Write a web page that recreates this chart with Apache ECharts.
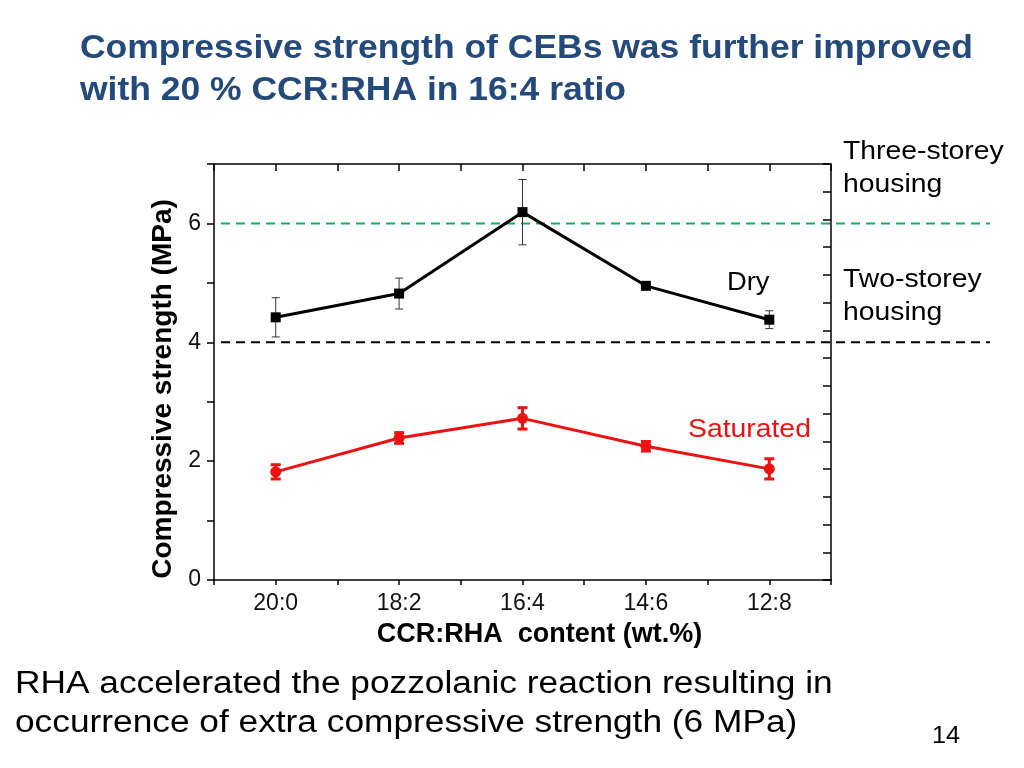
<!DOCTYPE html>
<html>
<head>
<meta charset="utf-8">
<script src="https://cdn.jsdelivr.net/npm/echarts@6/dist/echarts.min.js"></script>
<style>
html,body{margin:0;padding:0;background:#fff;}
#chart{width:1024px;height:768px;}
</style>
</head>
<body>
<div id="chart"></div>
<script>
// ---- data ----
const categories = ['20:0', '18:2', '16:4', '14:6', '12:8'];
const dryMean = [4.42, 4.82, 6.19, 4.95, 4.38];
const dryErr  = [0.33, 0.26, 0.55, 0.05, 0.15];
const satMean = [1.82, 2.39, 2.72, 2.25, 1.87];
const satErr  = [0.12, 0.09, 0.18, 0.08, 0.17];
const refLevels = [6, 4];

const FONT = "'Liberation Sans', Arial, Helvetica, sans-serif";
const refColors = ['#1aae5a', '#000000'];

function errData(mean, err) {
  return mean.map((m, i) => [i, m - err[i], m + err[i]]);
}
function errRender(color, width, cap) {
  return function (params, api) {
    const x = api.value(0);
    const lo = api.coord([x, api.value(1)]);
    const hi = api.coord([x, api.value(2)]);
    const st = { stroke: color, lineWidth: width };
    return {
      type: 'group',
      children: [
        { type: 'line', shape: { x1: lo[0], y1: lo[1], x2: hi[0], y2: hi[1] }, style: st },
        { type: 'line', shape: { x1: lo[0] - cap, y1: lo[1], x2: lo[0] + cap, y2: lo[1] }, style: st },
        { type: 'line', shape: { x1: hi[0] - cap, y1: hi[1], x2: hi[0] + cap, y2: hi[1] }, style: st }
      ]
    };
  };
}

const chart = echarts.init(document.getElementById('chart'), null, { renderer: 'canvas' });

const axisLineStyle = { color: '#000', width: 1.5 };

const option = {
  backgroundColor: '#fff',
  animation: false,
  textStyle: { fontFamily: FONT },
  grid: [
    { left: 214, right: 193, top: 164, bottom: 188 },
    { left: 214, right: 34, top: 164, bottom: 188 }
  ],
  xAxis: [
    {
      type: 'value', gridIndex: 0, position: 'bottom',
      min: -0.5, max: 4.5, interval: 0.5,
      axisLine: { show: true, onZero: false, lineStyle: axisLineStyle },
      axisTick: { show: true, inside: false, length: 5, lineStyle: { color: '#000', width: 1.5 } },
      axisLabel: {
        margin: 12, fontSize: 23, color: '#111', fontFamily: FONT,
        formatter: v => (Number.isInteger(v) && v >= 0 && v < categories.length) ? categories[v] : ''
      },
      splitLine: { show: false },
      name: 'CCR:RHA  content (wt.%)', nameLocation: 'middle', nameGap: 41,
      nameTextStyle: { fontSize: 27, fontWeight: 'bold', color: '#000', fontFamily: FONT, padding: [0, 0, 0, 34] }
    },
    {
      type: 'value', gridIndex: 0, position: 'top',
      min: -0.5, max: 4.5, interval: 0.5,
      axisLine: { show: true, onZero: false, lineStyle: axisLineStyle },
      axisTick: { show: true, inside: true, length: 7, lineStyle: { color: '#000', width: 1.5 } },
      axisLabel: { show: false },
      splitLine: { show: false }
    },
    {
      type: 'value', gridIndex: 1, min: 0, max: 1, show: false
    }
  ],
  yAxis: [
    {
      type: 'value', gridIndex: 0, position: 'left',
      min: 0, max: 7, interval: 1,
      axisLine: { show: true, onZero: false, lineStyle: axisLineStyle },
      axisTick: { show: true, inside: false, length: 7, lineStyle: { color: '#000', width: 1.5 } },
      axisLabel: {
        margin: 13, fontSize: 23, color: '#111', fontFamily: FONT,
        formatter: v => (v % 2 === 0 && v < 7) ? String(v) : ''
      },
      splitLine: { show: false },
      name: 'Compressive strength (MPa)', nameLocation: 'middle', nameGap: 26, nameRotate: 90,
      nameTextStyle: { fontSize: 28, fontWeight: 'bold', color: '#000', fontFamily: FONT, padding: [0, 34, 0, 0] }
    },
    {
      type: 'value', gridIndex: 0, position: 'right',
      min: 0, max: 7.5, interval: 0.5,
      axisLine: { show: true, onZero: false, lineStyle: axisLineStyle },
      axisTick: { show: true, inside: true, length: 8, lineStyle: { color: '#000', width: 1.5 } },
      axisLabel: { show: false },
      splitLine: { show: false }
    },
    {
      type: 'value', gridIndex: 1, min: 0, max: 7, show: false
    }
  ],
  graphic: [
    { type: 'text', x: 80, y: 28, scaleX: 1.075, style: { text: 'Compressive strength of CEBs was further improved\nwith 20 % CCR:RHA in 16:4 ratio', font: 'bold 33px ' + FONT, fill: '#244a7c', lineHeight: 42 } },
    { type: 'text', x: 15, y: 665, scaleX: 1.138, style: { text: 'RHA accelerated the pozzolanic reaction resulting in\noccurrence of extra compressive strength (6 MPa)', font: '31px ' + FONT, fill: '#000', lineHeight: 39 } },
    { type: 'text', x: 932, y: 724, scaleX: 1.05, style: { text: '14', font: '24px ' + FONT, fill: '#000' } },
    { type: 'text', x: 843, y: 135, scaleX: 1.09, style: { text: 'Three-storey\nhousing', font: '26px ' + FONT, fill: '#000', lineHeight: 33 } },
    { type: 'text', x: 843, y: 263, scaleX: 1.09, style: { text: 'Two-storey\nhousing', font: '26px ' + FONT, fill: '#000', lineHeight: 33 } },
    { type: 'text', x: 727, y: 270, scaleX: 1.05, style: { text: 'Dry', font: '26px ' + FONT, fill: '#000' } },
    { type: 'text', x: 688, y: 417, scaleX: 1.09, style: { text: 'Saturated', font: '26px ' + FONT, fill: '#ee1111' } }
  ],
  series: [
    {
      type: 'custom', xAxisIndex: 2, yAxisIndex: 2, z: 1,
      data: refLevels.map(v => [0, 1, v]),
      renderItem: function (params, api) {
        const a = api.coord([api.value(0), api.value(2)]);
        const b = api.coord([api.value(1), api.value(2)]);
        return {
          type: 'line',
          shape: { x1: a[0] + 7, y1: a[1], x2: b[0], y2: b[1] },
          style: { stroke: refColors[params.dataIndex], lineWidth: 2, lineDash: [9, 6] }
        };
      }
    },
    {
      type: 'custom', xAxisIndex: 0, yAxisIndex: 0, z: 2,
      data: errData(dryMean, dryErr),
      renderItem: errRender('#333', 1, 4)
    },
    {
      type: 'custom', xAxisIndex: 0, yAxisIndex: 0, z: 2,
      data: errData(satMean, satErr),
      renderItem: errRender('#ee1111', 3, 5)
    },
    {
      type: 'line', xAxisIndex: 0, yAxisIndex: 0, z: 3,
      data: dryMean.map((v, i) => [i, v]),
      symbol: 'rect', symbolSize: 10,
      itemStyle: { color: '#000' },
      lineStyle: { color: '#000', width: 3 }
    },
    {
      type: 'line', xAxisIndex: 0, yAxisIndex: 0, z: 3,
      data: satMean.map((v, i) => [i, v]),
      symbol: 'circle', symbolSize: 11,
      itemStyle: { color: '#ee1111' },
      lineStyle: { color: '#ee1111', width: 3 }
    }
  ]
};
chart.setOption(option);
</script>
</body>
</html>
